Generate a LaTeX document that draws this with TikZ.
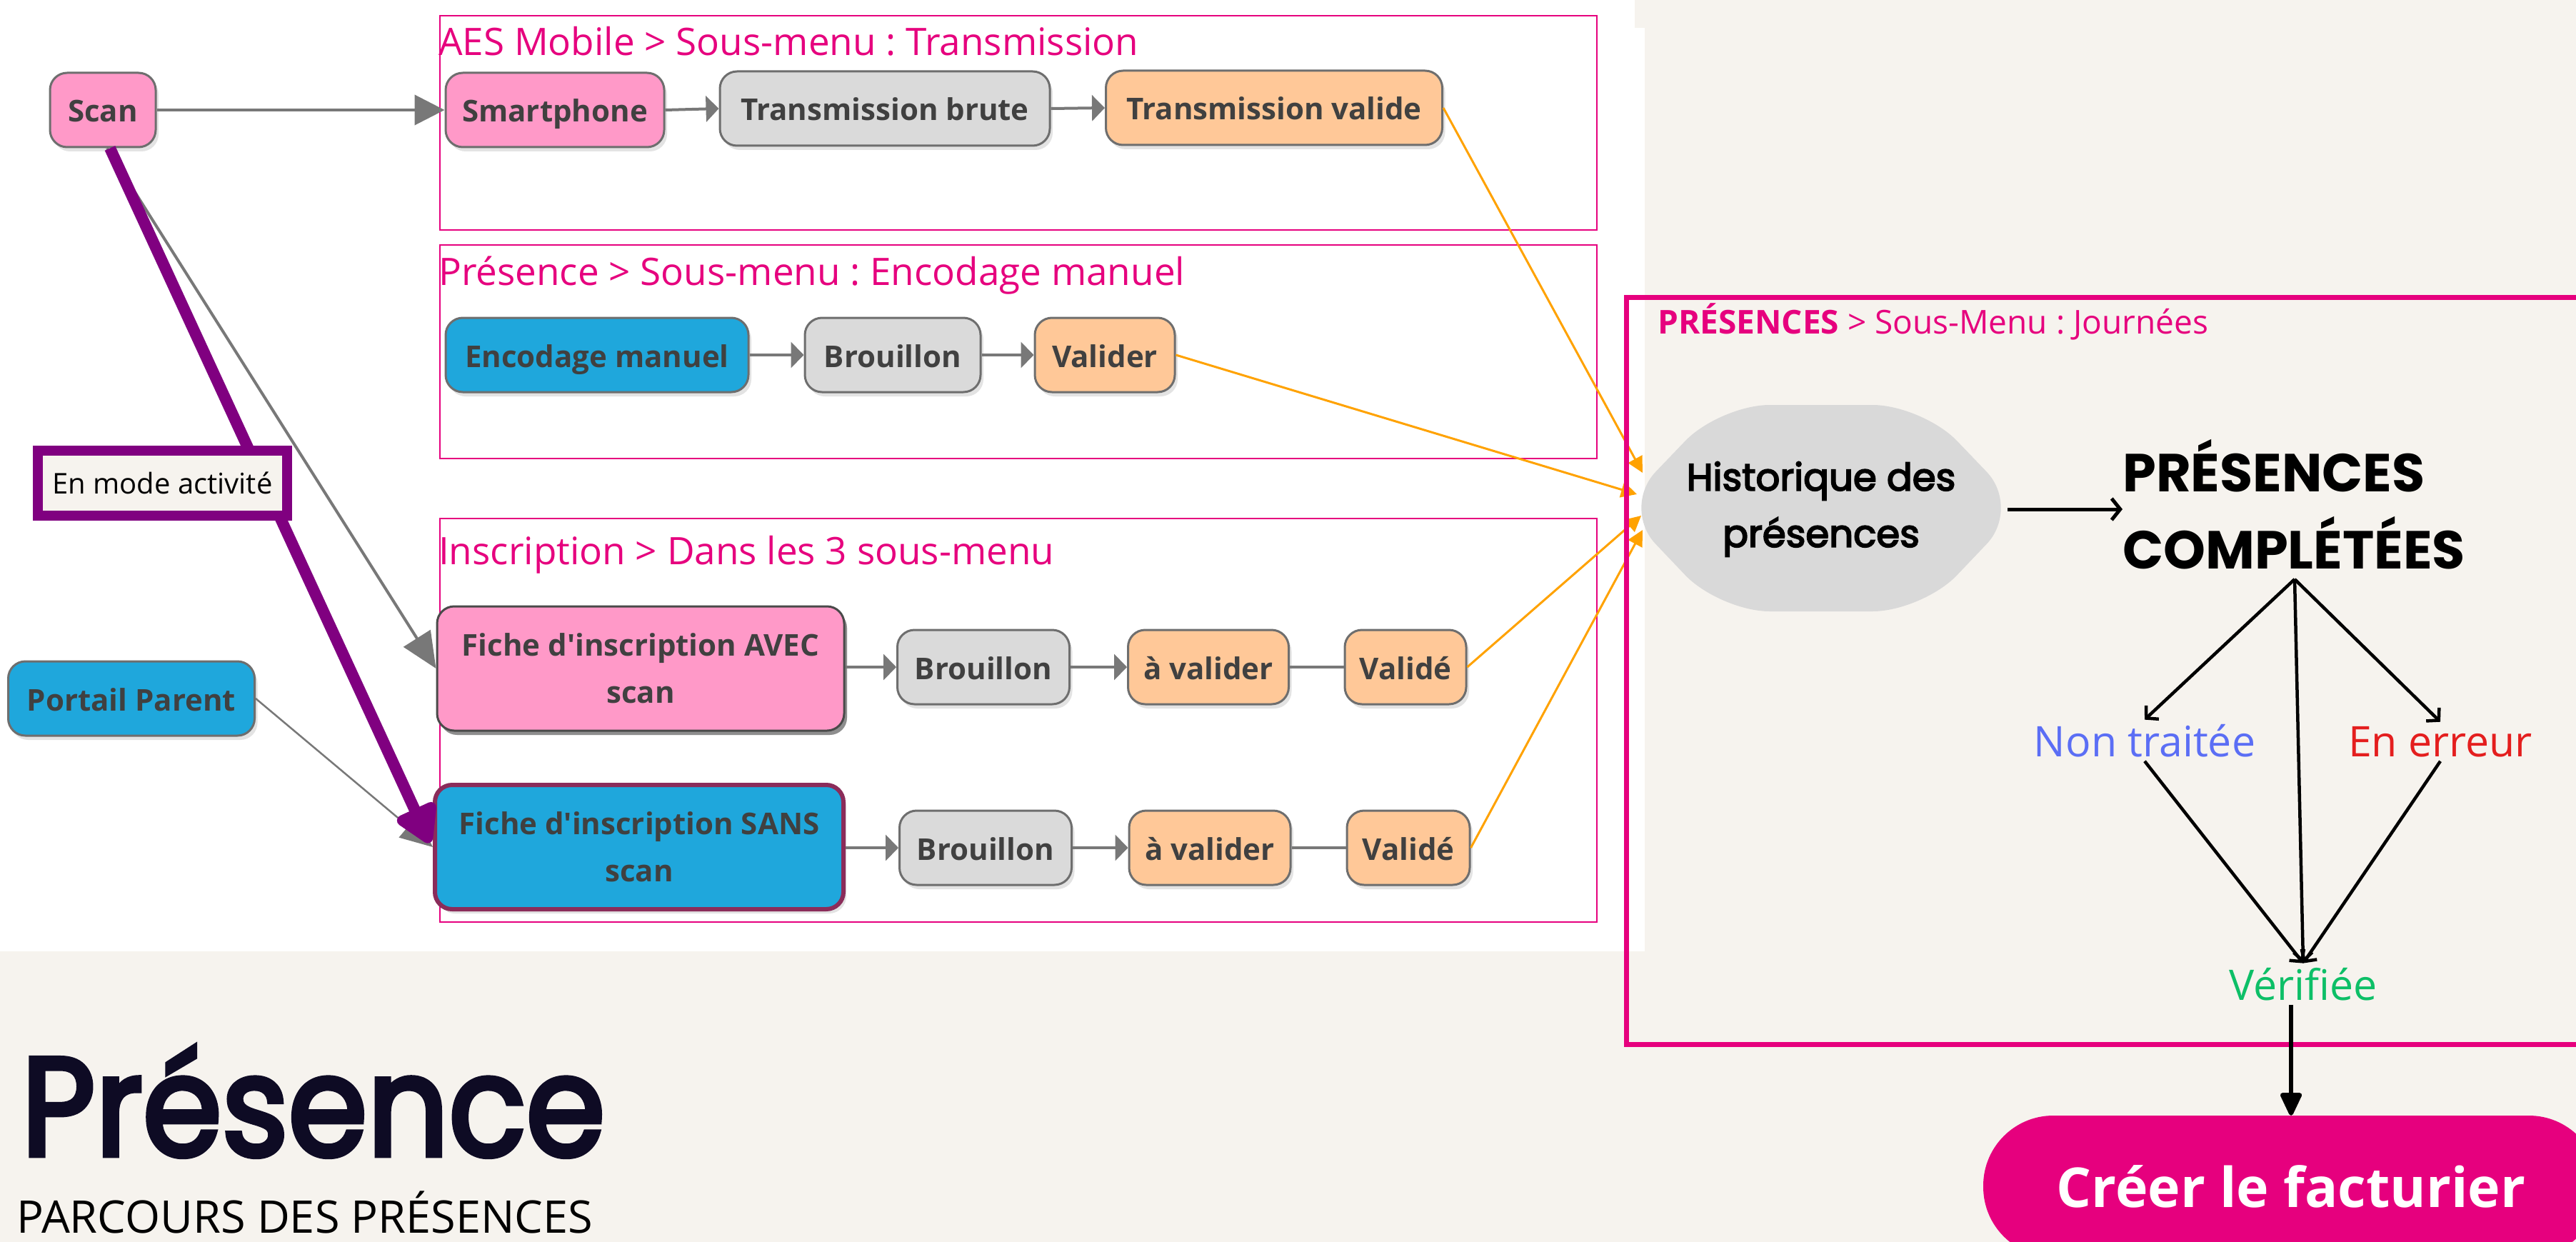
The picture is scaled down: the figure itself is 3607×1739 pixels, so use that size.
\documentclass[tikz,border=0pt]{standalone}
\usepackage{fontspec}
\setmainfont{Open Sans}
\newfontfamily\popfont{Poppins}
\newfontfamily\popmed{Poppins}[FakeBold=3.5]
\newfontfamily\poptitle{Poppins}[FakeBold=3.5, FakeStretch=0.91]
\usetikzlibrary{arrows.meta,shadows,calc}
\definecolor{bgbeige}{HTML}{F6F3EE}
\definecolor{framepink}{HTML}{E6007E}
\definecolor{pinkn}{HTML}{FF99C8}
\definecolor{grayn}{HTML}{DADADA}
\definecolor{orangen}{HTML}{FFC898}
\definecolor{bluen}{HTML}{1FA7DC}
\definecolor{nodeborder}{HTML}{6E6E6E}
\definecolor{darkborder}{HTML}{4A4A4A}
\definecolor{sansborder}{HTML}{8B2C5A}
\definecolor{nodetext}{HTML}{404040}
\definecolor{conngray}{HTML}{787878}
\definecolor{purplel}{HTML}{800080}
\definecolor{orangeline}{HTML}{FFA200}
\definecolor{histgray}{HTML}{D9D9D9}
\definecolor{ntblue}{HTML}{5B6EF5}
\definecolor{eered}{HTML}{E41E1E}
\definecolor{vergreen}{HTML}{0DBF67}
\definecolor{titlenavy}{HTML}{0E0B24}
\frenchspacing
\begin{document}
\begin{tikzpicture}[x=1pt,y=-1pt,
  fc/.style={rounded corners=24pt, draw=nodeborder, line width=3pt, fill=grayn,
    font=\fontsize{42}{66}\selectfont\bfseries, text=nodetext, inner sep=0pt,
    minimum height=104pt, align=center,
    drop shadow={shadow xshift=4pt, shadow yshift=-6pt, opacity=0.22}},
  one/.style={text height=42pt, text depth=8pt},
  conn/.style={draw=conngray, line width=4pt},
  tipS/.style={-{Triangle[length=18pt,width=36pt]}},
  frame/.style={draw=framepink, line width=2.5pt},
  ftitle/.style={anchor=base west, inner sep=0pt, text=framepink, font=\fontsize{53}{60}\selectfont},
  oline/.style={draw=orangeline, line width=3pt, -{Triangle[length=22pt,width=22pt]}},
  blk/.style={draw=black, line width=4.5pt, -{Straight Barb[length=12pt,width=26pt]}},
  state/.style={anchor=base, inner sep=6pt, font=\fontsize{59}{64}\selectfont},
]
\useasboundingbox (0,0) rectangle (3607,1739);
\clip (0,0) rectangle (3607,1739);
% backgrounds
\fill[bgbeige] (0,0) rectangle (3607,1739);
\fill[white] (0,0) rectangle (2303,1332);
\fill[bgbeige] (2289,0) rectangle (2303,39);

% frames
\draw[frame] (616,22) rectangle (2236,322);
\draw[frame] (616,343) rectangle (2236,642);
\draw[frame] (616,726) rectangle (2236,1291);
\node[ftitle] (t1) at (614,78) {AES Mobile > Sous-menu : Transmission};
\node[ftitle] (t2) at (614,399) {Présence > Sous-menu : Encodage manuel};
\node[ftitle] (t3) at (614,790) {Inscription > Dans les 3 sous-menu};

% nodes
\node[fc, one, fill=pinkn, minimum width=148pt] (scan) at (144,154) {Scan};
\node[fc, one, fill=pinkn, minimum width=306pt] (smart) at (777,154) {Smartphone};
\node[fc, one, fill=grayn, minimum width=462pt] (tbrute) at (1239,152) {Transmission brute};
\node[fc, one, fill=orangen, minimum width=471pt] (tvalide) at (1784,151) {Transmission valide};
\node[fc, one, fill=bluen, minimum width=424pt] (enc) at (836,497) {Encodage manuel};
\node[fc, one, fill=grayn, minimum width=246pt] (brou1) at (1250,497) {Brouillon};
\node[fc, one, fill=orangen, minimum width=196pt] (valider) at (1547,497) {Valider};
\node[fc, fill=pinkn, minimum width=570pt, minimum height=174pt, draw=darkborder,
  drop shadow={shadow xshift=4pt, shadow yshift=-6pt, opacity=0.85}] (avec) at (897,936) {Fiche d\textquotesingle inscription AVEC\\scan};
\node[fc, one, fill=grayn, minimum width=241pt] (brou2) at (1377,934) {Brouillon};
\node[fc, one, fill=orangen, minimum width=225pt] (aval2) at (1692,934) {à valider};
\node[fc, one, fill=orangen, minimum width=170pt] (vali2) at (1968,934) {Validé};
\node[fc, fill=bluen, minimum width=572pt, minimum height=174pt, draw=sansborder, line width=6pt] (sans) at (895,1186) {Fiche d\textquotesingle inscription SANS\\scan};
\node[fc, one, fill=grayn, minimum width=241pt] (brou3) at (1380,1187) {Brouillon};
\node[fc, one, fill=orangen, minimum width=226pt] (aval3) at (1694,1187) {à valider};
\node[fc, one, fill=orangen, minimum width=172pt] (vali3) at (1972,1187) {Validé};
\node[fc, one, fill=bluen, minimum width=345pt] (portail) at (184,978) {Portail Parent};

% row connectors
\draw[conn, -{Triangle[length=42pt,width=42pt]}] (scan.east) -- (smart.west);
\draw[conn, tipS] (smart.east) -- (tbrute.west);
\draw[conn, tipS] (tbrute.east) -- (tvalide.west);
\draw[conn, tipS] (enc.east) -- (brou1.west);
\draw[conn, tipS] (brou1.east) -- (valider.west);
\draw[conn, tipS] (avec.east |- brou2.west) -- (brou2.west);
\draw[conn, tipS] (brou2.east) -- (aval2.west);
\draw[conn] (aval2.east) -- (vali2.west);
\draw[conn, tipS] (sans.east |- brou3.west) -- (brou3.west);
\draw[conn, tipS] (brou3.east) -- (aval3.west);
\draw[conn] (aval3.east) -- (vali3.west);

% scan / portail arrows
\draw[conngray, line width=4pt, -{Triangle[length=50pt,width=44pt]}] ($(scan.south)+(6,0)$) -- (avec.west);
\draw[conngray, line width=2.5pt, -{Triangle[length=45pt,width=40pt]}] (portail.east) -- (sans.west);
\draw[purplel, line width=16pt, -{Triangle[length=60pt,width=66pt,round]}] ($(scan.south)+(10,0)$) -- ($(sans.west)+(-4,-6)$);
\node[draw=purplel, line width=14pt, fill=bgbeige, minimum width=349pt, minimum height=91pt,
  inner sep=0pt, font=\fontsize{40}{46}\selectfont] (mode) at (227.5,676.5) {En mode activité};

% orange links
\coordinate (h1) at (2300,662);
\coordinate (h2) at (2292,692);
\coordinate (h3) at (2298,722);
\coordinate (h4) at (2300,742);
\draw[oline] (tvalide.east) -- (h1);
\draw[oline] (valider.east) -- (h2);
\draw[oline] (vali2.east) -- (h3);
\draw[oline] (vali3.east) -- (h4);

% PRESENCES frame
\draw[framepink, line width=7pt] (2277,416) rectangle (3630,1462);
\node[anchor=base west, inner sep=0pt, text=framepink, font=\fontsize{46}{50}\selectfont] (t4) at (2321,467) {\textbf{PRÉSENCES} > Sous-Menu : Journées};

% historique shape
\fill[histgray, rounded corners=70pt] (2270,711) -- (2408,567) -- (2692,567) -- (2830,711) -- (2692,856) -- (2408,856) -- cycle;
\node[inner sep=0pt, minimum width=522pt, minimum height=289pt, align=center,
  font=\popmed\fontsize{53}{79}\selectfont] (hist) at (2550,713) {Historique des\\présences};
\node[anchor=west, align=left, inner sep=0pt, font=\popfont\bfseries\fontsize{75}{108}\selectfont] (comp) at (2972,706) {PRÉSENCES\\COMPLÉTÉES};
\draw[draw=black, line width=5pt, -{Straight Barb[length=12pt,width=30pt]}] (hist.east) -- (hist.east -| comp.west);

\coordinate (cb) at (3213,811);
\node[state, text=ntblue] (nt) at (3003,1059) {Non traitée};
\node[state, text=eered] (ee) at (3417,1059) {En erreur};
\node[state, text=vergreen] (ver) at (3225,1400) {Vérifiée};
\draw[blk] (cb) -- (nt.north);
\draw[blk] (cb) -- (ee.north);
\draw[blk] (cb) -- (ver.north);
\draw[blk] (nt.south) -- (ver.north);
\draw[blk] (ee.south) -- (ver.north);

% creer
\node[fill=framepink, rounded corners=98pt, minimum width=862pt, minimum height=198pt, inner sep=0pt,
  text=white, font=\fontsize{77}{80}\selectfont\bfseries] (creer) at (3208,1661) {Créer le facturier};
\draw[black, line width=6pt, -{Triangle[length=36pt,width=32pt,round]}] (creer.north |- ver.south) -- (creer.north);

% title
\node[anchor=base west, inner sep=0pt, text=titlenavy, font=\poptitle\fontsize{196}{200}\selectfont] (title) at (30,1618) {Présence};
\node[anchor=base west, inner sep=0pt, text=black, font=\fontsize{63}{66}\selectfont] (sub) at (23,1726) {PARCOURS DES PRÉSENCES};
\end{tikzpicture}
\end{document}
